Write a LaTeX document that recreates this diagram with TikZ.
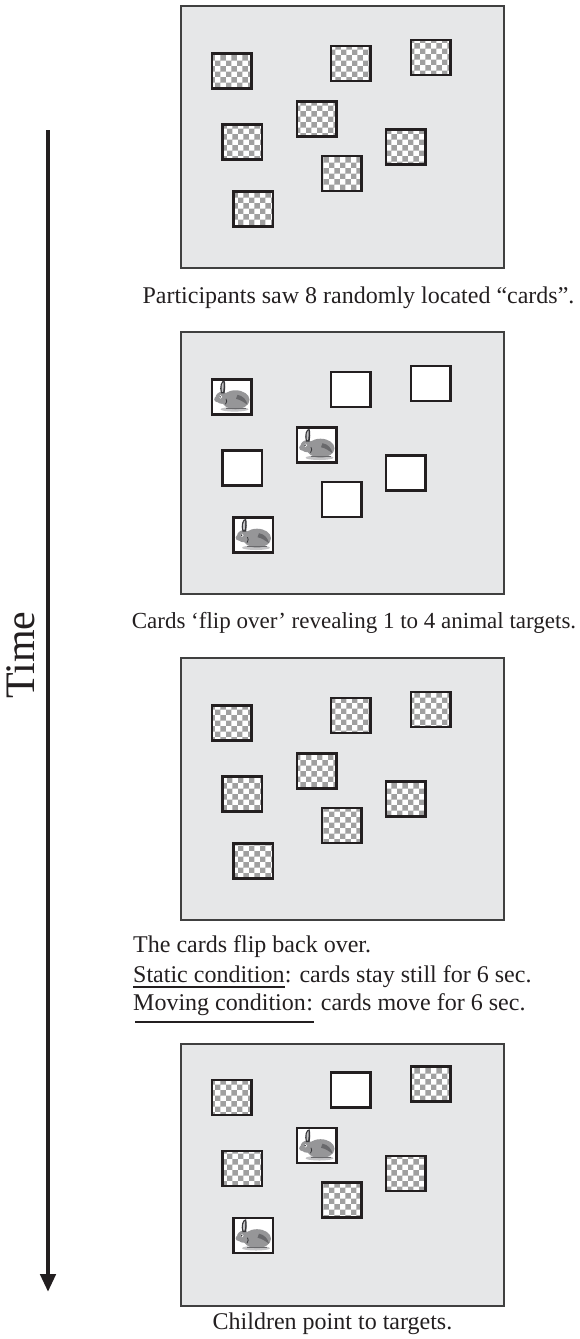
\documentclass[tikz,border=0pt]{standalone}
\usepackage{fontspec}
\setmainfont{Liberation Serif}
\usepackage{tikz}
\usetikzlibrary{arrows.meta,patterns}

\definecolor{panelgray}{RGB}{230,231,232}
\definecolor{framegray}{RGB}{64,64,64}
\definecolor{inkblack}{RGB}{35,31,32}
\definecolor{checkgray}{RGB}{160,160,160}
\definecolor{furgray}{RGB}{150,150,152}
\definecolor{furdark}{RGB}{105,105,108}
\definecolor{furlight}{RGB}{195,195,197}
\definecolor{earblack}{RGB}{55,55,58}

% card centres, measured from the top left corner of a panel
\newcommand{\cardspots}{51.5/65.8, 170.8/58.5, 250.5/52.5, 136.5/114.2,
  62/136.8, 225.5/142.2, 161.8/168.5, 73/204.2}

\tikzset{
  bunny/.pic={
    \fill[furlight] (3,12.5) ellipse (14 and 2.3);
    \fill[furgray] (4,3) ellipse (14 and 9.5);
    \fill[furgray] (-9.5,1) ellipse (6.5 and 6);
    \fill[furgray] (-14.5,2.5) circle (2.8);
    % haunch
    \fill[furdark] (6,-2) .. controls (11.5,-1) and (15,3) .. (16,8)
      .. controls (12.5,5.5) and (9,3) .. (4.5,2) -- cycle;
    % ears
    \fill[earblack] (-10.5,-3.5) .. controls (-12.5,-10) and (-10.5,-16.5) .. (-7,-16.5)
      .. controls (-5.5,-12) and (-6.5,-7) .. (-7,-3.5) -- cycle;
    \fill[furlight] (-9.6,-5) .. controls (-10.6,-10) and (-9.5,-14) .. (-8,-14.5)
      .. controls (-7.6,-11) and (-8,-7.5) .. (-8.4,-5) -- cycle;
    \fill[white] (-11,0) circle (1.7);
    \fill[earblack] (-11.4,0) circle (0.9);
    \draw[earblack, line width=0.8pt] (-5.5,2) .. controls (-4.5,4.5) .. (-6,7.5);
    \draw[furdark, line width=0.6pt] (-6,11.5) -- (14,11.5);
  }
}

\begin{document}
\begin{tikzpicture}[
  x=1pt, y=-1pt,
  panel/.style={draw=framegray, fill=panelgray, line width=1.5pt,
    minimum width=323pt, minimum height=262pt, anchor=north west, inner sep=0},
  card/.style={draw=inkblack, line width=2.5pt, inner sep=0,
    minimum width=39.5pt, minimum height=35pt},
  facedown/.style={preaction={fill=white}, pattern=checkerboard,
    pattern color=checkgray},
  faceup/.style={fill=white},
  caption/.style={inner sep=0, text=inkblack, font=\fontsize{24}{29}\selectfont},
  timearrow/.style={-{Triangle[length=18pt,width=15pt]}, line width=4.5pt,
    draw=inkblack}
]
  \useasboundingbox (0,0) rectangle (580,1339);

  % time axis
  \coordinate (tstart) at (48,130);
  \coordinate (tend) at (48,1292);
  \draw[timearrow] (tstart) -- (tend);
  \node[rotate=90, text=inkblack, inner sep=0,
    font=\fontsize{42}{42}\selectfont] (tlabel) at (21,655) {Time};

  % 1: all cards hidden
  \begin{scope}[shift={(180,5)}]
    \node[panel] (pan1) at (0,0) {};
    \foreach \x/\y [count=\i] in \cardspots
      \node[card, facedown] (p1c\i) at (\x,\y) {};
  \end{scope}
  \node[caption, anchor=base] (cap1) at (358.5,303)
    {Participants saw 8 randomly located ``cards''.};

  % 2: cards turned over
  \begin{scope}[shift={(180,331)}]
    \node[panel] (pan2) at (0,0) {};
    \foreach \x/\y [count=\i] in \cardspots
      \node[card, faceup] (p2c\i) at (\x,\y) {};
    \foreach \i in {1,4,8}
      \pic at (p2c\i) {bunny};
  \end{scope}
  \node[caption, anchor=base, font=\fontsize{23}{28}\selectfont] (cap2) at (354,628)
    {Cards `flip over' revealing 1 to 4 animal targets.};

  % 3: hidden again
  \begin{scope}[shift={(180,657)}]
    \node[panel] (pan3) at (0,0) {};
    \foreach \x/\y [count=\i] in \cardspots
      \node[card, facedown] (p3c\i) at (\x,\y) {};
  \end{scope}
  \node[caption, anchor=base west] (cap3a) at (133,952) {The cards flip back over.};
  \node[caption, anchor=base west] (stat) at (133,982) {Static condition};
  \node[caption, anchor=base west] (statrest) at (stat.base east)
    {: cards stay still for 6 sec.};
  \node[caption, anchor=base west] (mov) at (133,1010) {Moving condition};
  \node[caption, anchor=base west] (movrest) at (mov.base east)
    {: cards move for 6 sec.};
  \draw[inkblack, line width=1.8pt]
    ([yshift=-5pt]stat.base west) -- ([yshift=-5pt]stat.base east);
  \draw[inkblack, line width=2.6pt]
    ([yshift=-12pt,xshift=2pt]mov.base west) -- ([yshift=-12pt,xshift=8pt]mov.base east);

  % 4: children point
  \begin{scope}[shift={(180,1043)}]
    \node[panel] (pan4) at (0,0) {};
    \begin{scope}[shift={(0,-11.5)}]
      \foreach \x/\y [count=\i] in \cardspots {
        \ifnum\i=2
          \node[card, faceup] (p4c\i) at (\x,\y) {};
        \else\ifnum\i=4
          \node[card, faceup] (p4c\i) at (\x,\y) {};
        \else\ifnum\i=8
          \node[card, faceup] (p4c\i) at (\x,\y) {};
        \else
          \node[card, facedown] (p4c\i) at (\x,\y) {};
        \fi\fi\fi
      }
    \end{scope}
    \foreach \i in {4,8}
      \pic at (p4c\i) {bunny};
  \end{scope}
  \node[caption, anchor=base] (cap4) at (332.5,1329) {Children point to targets.};
\end{tikzpicture}
\end{document}
